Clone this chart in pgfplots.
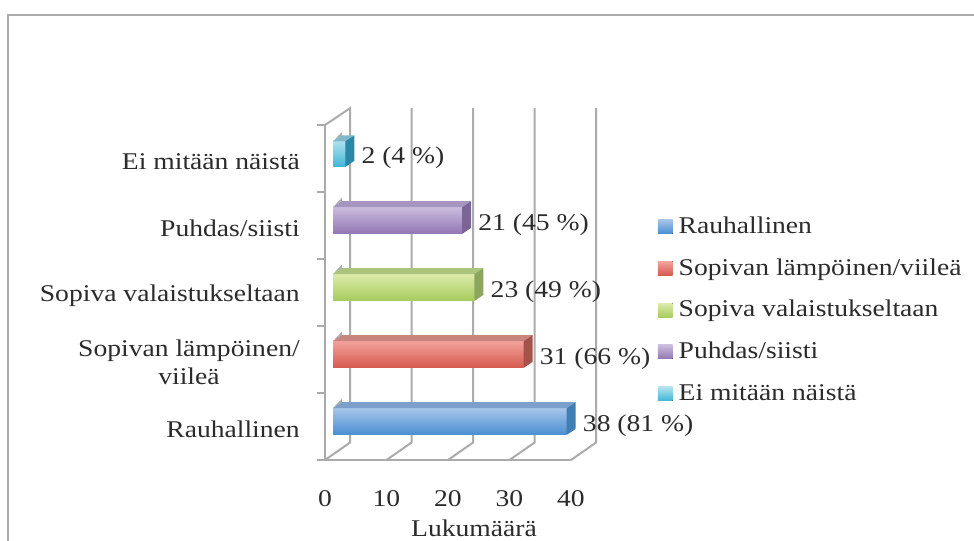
\documentclass[border=0pt]{standalone}
\usepackage{pgfplots}
\pgfplotsset{compat=1.18}
\usepackage{fontspec}
\setmainfont[FakeStretch=1.15]{Liberation Serif}
\definecolor{wall}{HTML}{ABABAB}
\definecolor{ink}{HTML}{2B2B2B}
% palette: upper, middle and lower front shades, then top and side faces
\definecolor{bluA}{HTML}{A6C5EA}\definecolor{bluB}{HTML}{8FB5E0}\definecolor{bluC}{HTML}{4A8ED2}\definecolor{bluT}{HTML}{7C9FCB}\definecolor{bluS}{HTML}{3F7FB3}
\definecolor{redA}{HTML}{F2A29B}\definecolor{redB}{HTML}{EC8E86}\definecolor{redC}{HTML}{D5594E}\definecolor{redT}{HTML}{C88580}\definecolor{redS}{HTML}{A5524A}
\definecolor{grnA}{HTML}{DCEBAA}\definecolor{grnB}{HTML}{CFE392}\definecolor{grnC}{HTML}{A6CB5C}\definecolor{grnT}{HTML}{AAC47C}\definecolor{grnS}{HTML}{8CA65E}
\definecolor{purA}{HTML}{CBBCDD}\definecolor{purB}{HTML}{B9A6D1}\definecolor{purC}{HTML}{9176B4}\definecolor{purT}{HTML}{A596C1}\definecolor{purS}{HTML}{7B6596}
\definecolor{cynA}{HTML}{B4E3EF}\definecolor{cynB}{HTML}{96D7E8}\definecolor{cynC}{HTML}{3FB6D6}\definecolor{cynT}{HTML}{7FBACB}\definecolor{cynS}{HTML}{2B87A8}
\newcommand{\chartfont}{\fontsize{18}{21}\selectfont}
\pgfplotsset{
  bluebar/.style={xbar,draw=none,shade,top color=bluA,middle color=bluB,bottom color=bluC},
  redbar/.style={xbar,draw=none,shade,top color=redA,middle color=redB,bottom color=redC},
  greenbar/.style={xbar,draw=none,shade,top color=grnA,middle color=grnB,bottom color=grnC},
  purplebar/.style={xbar,draw=none,shade,top color=purA,middle color=purB,bottom color=purC},
  cyanbar/.style={xbar,draw=none,shade,top color=cynA,middle color=cynB,bottom color=cynC},
  swatch/.style={legend image code/.code={\fill[##1] (0pt,-4pt) rectangle (11pt,6.5pt);}},
  face/.style={sharp plot,forget plot,draw=none,fill=#1},
}
\begin{document}
\begin{tikzpicture}
\path[use as bounding box] (0,0) rectangle (730.5pt,405.75pt);
% chart frame, running off the right and lower edges
\draw[wall,line width=1.9pt] (6pt,0) -- (6pt,394.5pt) -- (730.5pt,394.5pt);

% walls, ticks and category labels
\begin{axis}[
  at={(243.75pt,60.75pt)}, anchor=south west, scale only axis,
  width=184.5pt, height=251.25pt, clip=false,
  xmin=0, xmax=40, ymin=-0.5, ymax=4.5,
  axis x line=bottom, axis y line=left, axis line style={-,wall,line width=1.3pt},
  xtick={0,10,20,30,40},
  ytick={0,1,2,3,4},
  yticklabels={Rauhallinen,{Sopivan lämpöinen/\\viileä},Sopiva valaistukseltaan,Puhdas/siisti,Ei mitään näistä},
  extra y ticks={-0.5,0.5,1.5,2.5,3.5,4.5},
  extra y tick labels={},
  extra y tick style={major tick length=6pt,tick style={wall,line width=1.1pt}},
  major tick length=0pt,
  x tick style={wall,line width=1.1pt},
  tick align=outside,
  /pgf/number format/assume math mode=true,
  tick label style={font=\chartfont,text=ink},
  y tick label style={align=center,inner sep=0pt,xshift=-18.75pt,yshift=-2.25pt},
  x tick label style={yshift=-19pt},
  xlabel={Lukumäärä}, xlabel style={font=\chartfont,text=ink,xshift=19.5pt,yshift=-3.25pt},
]
\addplot[wall,line width=1.5pt] coordinates {(0,-0.5)(4.07,-0.24)(4.07,4.75)(0,4.5)};
\addplot[wall,line width=1.5pt] coordinates {(10,-0.5)(14.07,-0.24)(14.07,4.75)};
\addplot[wall,line width=1.5pt] coordinates {(20,-0.5)(24.07,-0.24)(24.07,4.75)};
\addplot[wall,line width=1.5pt] coordinates {(30,-0.5)(34.07,-0.24)(34.07,4.75)};
\addplot[wall,line width=1.5pt] coordinates {(40,-0.5)(44.07,-0.24)(44.07,4.75)};
\end{axis}

% bars, set back a little from the front edge of the floor
\begin{axis}[
  at={(249.75pt,64.5pt)}, anchor=south west, scale only axis,
  width=184.5pt, height=251.25pt, clip=false, hide axis,
  xmin=0, xmax=40, ymin=-0.5, ymax=4.5,
  /pgf/bar shift=0pt, /pgf/bar width=20pt,
  nodes near coords align={horizontal},
  every node near coord/.append style={font=\chartfont,text=ink,anchor=west,inner sep=0pt,xshift=12pt,yshift=-3pt,shade=none},
  legend style={at={(1.32,0.71)},anchor=north west,draw=none,fill=none,inner sep=0pt,
    row sep=14.8pt,font=\chartfont,text=ink,
    nodes={text height=12pt,text depth=4.5pt,inner sep=0pt},
    /tikz/every odd column/.append style={column sep=4.5pt}},
  legend cell align=left,
]
\addplot[bluebar,swatch,nodes near coords={38 (81 \%)}] coordinates {(38,0)};
\addlegendentry{Rauhallinen}
\addplot[redbar,swatch,nodes near coords={31 (66 \%)}] coordinates {(31,1)};
\addlegendentry{Sopivan lämpöinen/viileä}
\addplot[greenbar,swatch,nodes near coords={23 (49 \%)}] coordinates {(23,2)};
\addlegendentry{Sopiva valaistukseltaan}
\addplot[purplebar,swatch,nodes near coords={21 (45 \%)}] coordinates {(21,3)};
\addlegendentry{Puhdas/siisti}
\addplot[cyanbar,swatch,nodes near coords={2 (4 \%)}] coordinates {(2,4)};
\addlegendentry{Ei mitään näistä}

% top and side faces, with the small grey wedge behind each bar's rear corner
\addplot[face=wall] coordinates {(0,0.2)(1.46,0.34)(1.46,0.29)} -- cycle;
\addplot[face=bluT] coordinates {(0,0.2)(38,0.2)(39.46,0.29)(1.46,0.29)} -- cycle;
\addplot[face=bluS] coordinates {(38,-0.2)(38,0.2)(39.46,0.29)(39.46,-0.11)} -- cycle;
\addplot[face=wall] coordinates {(0,1.2)(1.46,1.34)(1.46,1.29)} -- cycle;
\addplot[face=redT] coordinates {(0,1.2)(31,1.2)(32.46,1.29)(1.46,1.29)} -- cycle;
\addplot[face=redS] coordinates {(31,0.8)(31,1.2)(32.46,1.29)(32.46,0.89)} -- cycle;
\addplot[face=wall] coordinates {(0,2.2)(1.46,2.34)(1.46,2.29)} -- cycle;
\addplot[face=grnT] coordinates {(0,2.2)(23,2.2)(24.46,2.29)(1.46,2.29)} -- cycle;
\addplot[face=grnS] coordinates {(23,1.8)(23,2.2)(24.46,2.29)(24.46,1.89)} -- cycle;
\addplot[face=wall] coordinates {(0,3.2)(1.46,3.34)(1.46,3.29)} -- cycle;
\addplot[face=purT] coordinates {(0,3.2)(21,3.2)(22.46,3.29)(1.46,3.29)} -- cycle;
\addplot[face=purS] coordinates {(21,2.8)(21,3.2)(22.46,3.29)(22.46,2.89)} -- cycle;
\addplot[face=wall] coordinates {(0,4.18)(1.46,4.32)(1.46,4.27)} -- cycle;
\addplot[face=cynT] coordinates {(0,4.18)(2,4.18)(3.46,4.27)(1.46,4.27)} -- cycle;
\addplot[face=cynS] coordinates {(2,3.8)(2,4.18)(3.46,4.27)(3.46,3.89)} -- cycle;
\end{axis}
\end{tikzpicture}
\end{document}
